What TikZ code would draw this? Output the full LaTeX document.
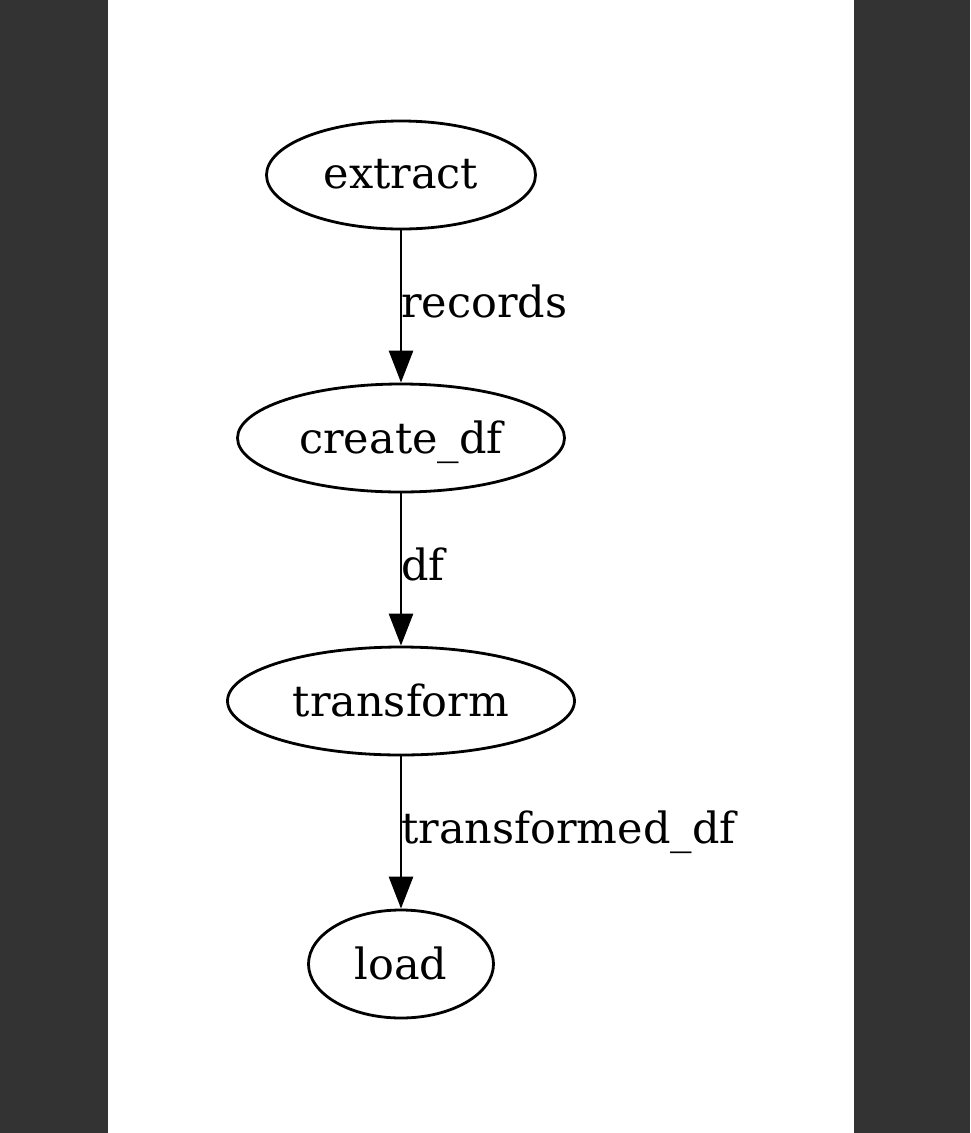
\documentclass[tikz,border=0pt]{standalone}
\usepackage{fontspec}
\setmainfont{DejaVu Serif}
\usetikzlibrary{shapes.geometric, arrows.meta}
\definecolor{sidebar}{HTML}{333333}
\tikzset{task/.style={draw,ellipse,line width=2.8pt,minimum height=108pt,inner sep=0pt,
                      font=\fontsize{43}{51}\selectfont},
         flow/.style={line width=2.8pt,-{Triangle[length=32pt,width=24pt]}},
         flowlabel/.style={anchor=base west,inner sep=0pt,xshift=-1pt,yshift=-11pt,
                      font=\fontsize{43}{51}\selectfont},
        }

\begin{document}
\begin{tikzpicture}[x=1pt,y=-1pt]
        \useasboundingbox(0,0)rectangle(970,1133);
        \fill[sidebar](0,0)rectangle(108,1133);
        \fill[sidebar](854,0)rectangle(970,1133);

        \node[task,minimum width=269pt,text depth=2pt](extract)at(401,175){extract};
        \node[task,minimum width=327pt,text depth=2pt](createdf)at(401,438){create\_df};
        \node[task,minimum width=347pt,text depth=2pt](transform)at(401,701){transform};
        \node[task,minimum width=185pt,text depth=2pt](load)at(401,964){load};

        \draw[flow](extract)--node[flowlabel]{records}(createdf);
        \draw[flow](createdf)--node[flowlabel]{df}(transform);
        \draw[flow](transform)--node[flowlabel]{transformed\_df}(load);
    \end{tikzpicture}
\end{document}
